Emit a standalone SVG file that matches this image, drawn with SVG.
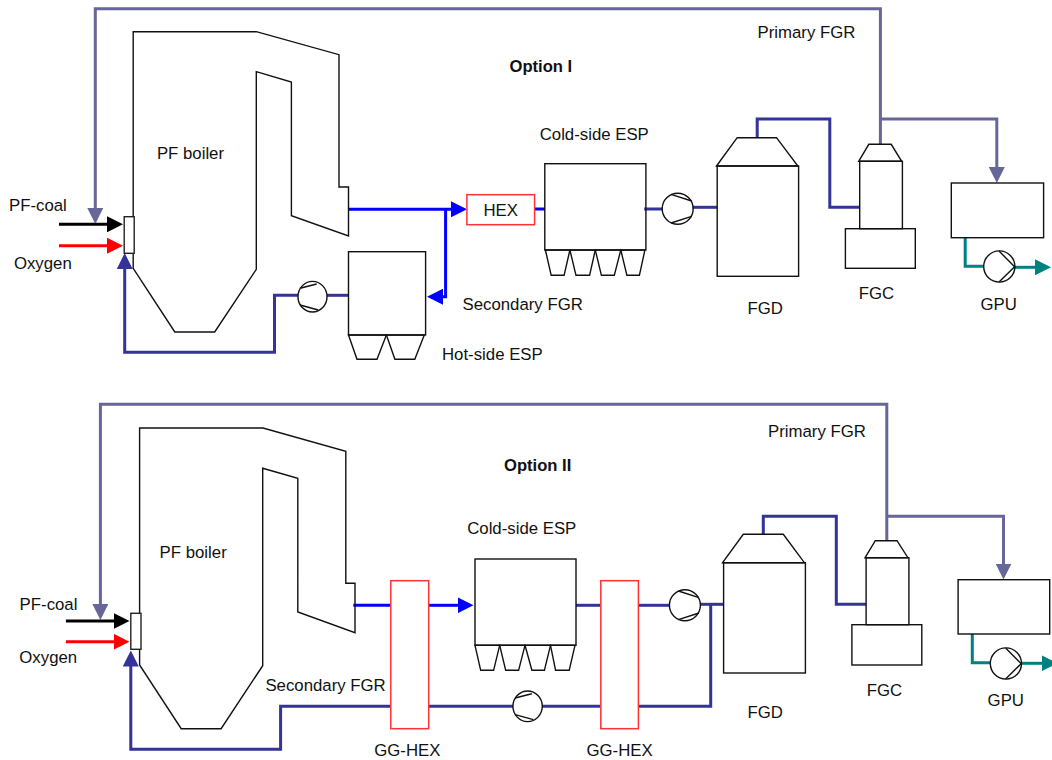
<svg xmlns="http://www.w3.org/2000/svg" width="1052" height="760" viewBox="0 0 1052 760">
<style>
text{font-family:"Liberation Sans",Arial,sans-serif;font-size:16.8px;fill:#111}
.b{font-weight:bold;font-size:16.6px}
.s{fill:none;stroke:#111;stroke-width:1.4;stroke-linejoin:miter}
.w{fill:#fff;stroke:#222;stroke-width:1.4}
.h{fill:#fff;stroke:#f33;stroke-width:1.5}
.c{fill:none;stroke-width:3;stroke-linejoin:miter}
.k{stroke:#000}.r{stroke:#f00}.n{stroke:#333399}.u{stroke:#0000ff}.p{stroke:#666699}.t{stroke:#008080}
</style>
<defs>
<marker id="mk" markerUnits="userSpaceOnUse" markerWidth="16" markerHeight="16" viewBox="0 0 16 16" refX="1" refY="8" orient="auto"><path d="M0 0L16 8L0 16z" fill="#000"/></marker>
<marker id="mr" markerUnits="userSpaceOnUse" markerWidth="16" markerHeight="16" viewBox="0 0 16 16" refX="1" refY="8" orient="auto"><path d="M0 0L16 8L0 16z" fill="#f00"/></marker>
<marker id="mn" markerUnits="userSpaceOnUse" markerWidth="16" markerHeight="16" viewBox="0 0 16 16" refX="1" refY="8" orient="auto"><path d="M0 0L16 8L0 16z" fill="#333399"/></marker>
<marker id="mu" markerUnits="userSpaceOnUse" markerWidth="16" markerHeight="16" viewBox="0 0 16 16" refX="1" refY="8" orient="auto"><path d="M0 0L16 8L0 16z" fill="#0000ff"/></marker>
<marker id="mp" markerUnits="userSpaceOnUse" markerWidth="16" markerHeight="16" viewBox="0 0 16 16" refX="1" refY="8" orient="auto"><path d="M0 0L16 8L0 16z" fill="#666699"/></marker>
<marker id="mt" markerUnits="userSpaceOnUse" markerWidth="16" markerHeight="16" viewBox="0 0 16 16" refX="1" refY="8" orient="auto"><path d="M0 0L16 8L0 16z" fill="#008080"/></marker>
</defs>

<g id="connectors">
<!-- Option I -->
<polyline class="c p" points="880.4,144.3 880.4,8.7 95.3,8.7 95.3,209" marker-end="url(#mp)"/>
<polyline class="c p" points="880.4,119 996.8,119 996.8,168" marker-end="url(#mp)"/>
<polyline class="c k" points="59,224.3 108,224.3" marker-end="url(#mk)"/>
<polyline class="c r" points="59,245.7 108,245.7" marker-end="url(#mr)"/>
<polyline class="c n" points="298,295.3 274.5,295.3 274.5,352.3 124.7,352.3 124.7,268" marker-end="url(#mn)"/>
<line class="c n" x1="327" y1="295.3" x2="348.5" y2="295.3"/>
<polyline class="c u" points="348,209.3 452,209.3" marker-end="url(#mu)"/>
<polyline class="c u" points="445.6,209.3 445.6,296.7 442,296.7" marker-end="url(#mu)"/>
<line class="c u" x1="533" y1="209" x2="545" y2="209"/>
<line class="c n" x1="644.2" y1="209" x2="662.5" y2="209"/>
<line class="c n" x1="692.5" y1="207.3" x2="717.2" y2="207.3"/>
<polyline class="c n" points="757.2,138 757.2,119 829.8,119 829.8,207.3 859.7,207.3"/>
<polyline class="c t" points="965.2,237.7 965.2,266.3 984,266.3"/>
<polyline class="c t" points="1015,267.3 1036,267.3" marker-end="url(#mt)"/>
<!-- Option II -->
<polyline class="c p" points="886.8,541 886.8,404.3 100.4,404.3 100.4,605" marker-end="url(#mp)"/>
<polyline class="c p" points="886.8,516.3 1003.5,516.3 1003.5,564.5" marker-end="url(#mp)"/>
<polyline class="c k" points="65.9,621 114.5,621" marker-end="url(#mk)"/>
<polyline class="c r" points="65.9,641.7 114.5,641.7" marker-end="url(#mr)"/>
<polyline class="c n" points="390.8,706.3 280.6,706.3 280.6,749.3 130.8,749.3 130.8,665.5" marker-end="url(#mn)"/>
<line class="c n" x1="428.7" y1="706.3" x2="513" y2="706.3"/>
<line class="c n" x1="542" y1="706.3" x2="600.8" y2="706.3"/>
<polyline class="c n" points="638.4,706.3 710.7,706.3 710.7,604.3"/>
<line class="c u" x1="353.3" y1="605.3" x2="390.8" y2="605.3"/>
<polyline class="c u" points="428.7,605.3 458.5,605.3" marker-end="url(#mu)"/>
<line class="c n" x1="576" y1="605.3" x2="600.8" y2="605.3"/>
<line class="c n" x1="638.4" y1="605.3" x2="669.3" y2="605.3"/>
<line class="c n" x1="700" y1="604.3" x2="723.6" y2="604.3"/>
<polyline class="c n" points="763.3,534.3 763.3,516.3 836.3,516.3 836.3,604.3 866,604.3"/>
<polyline class="c t" points="972.3,634 972.3,662.7 990.5,662.7"/>
<polyline class="c t" points="1021.5,663.3 1042.5,663.3" marker-end="url(#mt)"/>
</g>

<g id="boiler-1">
<polygon class="s" points="133.2,31.7 256.3,31.7 339,54.7 339,187 348.5,187 348.5,236 291.4,215.7 291.4,82 256.3,71.7 256.3,269.3 214.7,332 174.8,332 133.2,268.3"/>
<rect class="w" x="124.2" y="216.7" width="10" height="36.6"/>
<text x="156.9" y="158.7">PF boiler</text>
</g>
<g id="hot-esp-1">
<rect class="s" x="348.5" y="251.7" width="77.1" height="83.3"/>
<polygon class="s" points="348.5,335 357,359.3 377,359.3 386.4,335"/>
<polygon class="s" points="386.4,335 394.9,359.3 414.8,359.3 424.3,335"/>
<text x="442" y="360">Hot-side ESP</text>
</g>
<g id="hex-1">
<rect class="h" x="466.9" y="194.7" width="67.7" height="30"/>
<text x="483.4" y="216">HEX</text>
</g>
<g id="cold-esp-1">
<rect class="s" x="544.8" y="163.7" width="101.1" height="86.3"/>
<polygon class="s" points="545.4,250 551.2,275.3 564.1,275.3 569.9,250"/>
<polygon class="s" points="569.9,250 576,275.3 589.6,275.3 595.3,250"/>
<polygon class="s" points="595.3,250 601.4,275.3 614.3,275.3 620.8,250"/>
<polygon class="s" points="620.8,250 626.9,275.3 639.4,275.3 644.9,250"/>
<text x="539.7" y="140">Cold-side ESP</text>
</g>
<g id="fgd-1">
<rect class="s" x="717.2" y="166" width="81.4" height="110.3"/>
<polygon class="s" points="716.5,166 737.2,137.7 776.5,137.7 797.9,166"/>
<text x="747.4" y="313.7">FGD</text>
</g>
<g id="fgc-1">
<rect class="s" x="859.7" y="161.3" width="42.7" height="67.4"/>
<rect class="s" x="845.4" y="228.7" width="69.9" height="39.6"/>
<polygon class="s" points="858.7,161.3 868.8,144.3 891.2,144.3 901.7,161.3"/>
<text x="858.7" y="298.7">FGC</text>
</g>
<g id="gpu-1">
<rect class="s" x="951.3" y="183" width="92.3" height="54.7"/>
<text x="980.5" y="310">GPU</text>
</g>
<g id="pump-1a">
<ellipse class="s" cx="312.5" cy="296.7" rx="14.5" ry="15.3"/>
<path class="s" d="M300,288.3L316.7,284M300,305L318.3,310"/>
</g>
<g id="pump-1b">
<circle class="s" cx="677.7" cy="208.7" r="15.5"/>
<path class="s" d="M671,194.3L691.7,201M671,223L691.7,216.4"/>
</g>
<g id="pump-1c">
<circle class="s" cx="999.3" cy="266.5" r="15.6"/>
<path class="s" d="M999,251L1014.6,266.7L999,282"/>
</g>

<g id="boiler-2">
<polygon class="s" points="139.6,428 263,428 345.8,451.3 345.8,583.3 355,583.3 355,632.7 297.8,612 297.8,478.3 262.7,468.3 262.7,665.7 221.1,728.7 181.2,728.7 139.6,665"/>
<rect class="w" x="130.8" y="613.3" width="10.2" height="36"/>
<text x="159.6" y="558">PF boiler</text>
</g>
<g id="hex-2a">
<rect class="h" x="390.8" y="580.7" width="37.9" height="148"/>
<text x="374.2" y="756.2">GG-HEX</text>
</g>
<g id="cold-esp-2">
<rect class="s" x="475" y="559" width="101" height="86.3"/>
<polygon class="s" points="475,645.3 480.7,670.3 493.6,670.3 499.7,645.3"/>
<polygon class="s" points="499.7,645.3 505.7,670.3 518.6,670.3 525,645.3"/>
<polygon class="s" points="525,645.3 531.9,670.3 544.4,670.3 550.5,645.3"/>
<polygon class="s" points="550.5,645.3 555.6,670.3 569.2,670.3 575,645.3"/>
<text x="467.2" y="534">Cold-side ESP</text>
</g>
<g id="hex-2b">
<rect class="h" x="600.8" y="580.7" width="37.6" height="148"/>
<text x="586.5" y="756.2">GG-HEX</text>
</g>
<g id="fgd-2">
<rect class="s" x="723.6" y="562.7" width="81.8" height="110.3"/>
<polygon class="s" points="722.6,562.7 743.3,534.3 783.3,534.3 804.4,562.7"/>
<text x="747.4" y="717.7">FGD</text>
</g>
<g id="fgc-2">
<rect class="s" x="866.1" y="557.7" width="42.8" height="67"/>
<rect class="s" x="851.9" y="624.7" width="69.9" height="40.3"/>
<polygon class="s" points="865.1,557.7 875.3,540.7 897,540.7 907.9,557.7"/>
<text x="866.8" y="695.7">FGC</text>
</g>
<g id="gpu-2">
<rect class="s" x="958.1" y="579.7" width="91.6" height="54.3"/>
<text x="987.6" y="706">GPU</text>
</g>
<g id="pump-2a">
<ellipse class="s" cx="527.6" cy="706.3" rx="14.7" ry="15.3"/>
<path class="s" d="M515.1,698L531.8,693.7M515.1,714.6L533.4,719.6"/>
</g>
<g id="pump-2b">
<circle class="s" cx="684.9" cy="605.3" r="15.5"/>
<path class="s" d="M678.4,591L699,597.7M678.4,619.7L699,613"/>
</g>
<g id="pump-2c">
<circle class="s" cx="1005.9" cy="663.5" r="15.6"/>
<path class="s" d="M1005.6,648L1021.2,663.7L1005.6,679"/>
</g>

<g id="labels">
<text class="b" x="509.5" y="72">Option I</text>
<text x="757.5" y="38">Primary FGR</text>
<text x="9" y="210.7">PF-coal</text>
<text x="13.9" y="268.7">Oxygen</text>
<text x="462.5" y="310">Secondary FGR</text>
<text class="b" x="504" y="471">Option II</text>
<text x="768" y="437.3">Primary FGR</text>
<text x="19.6" y="609.7">PF-coal</text>
<text x="19.3" y="663.3">Oxygen</text>
<text x="265.4" y="691">Secondary FGR</text>
</g>
</svg>
